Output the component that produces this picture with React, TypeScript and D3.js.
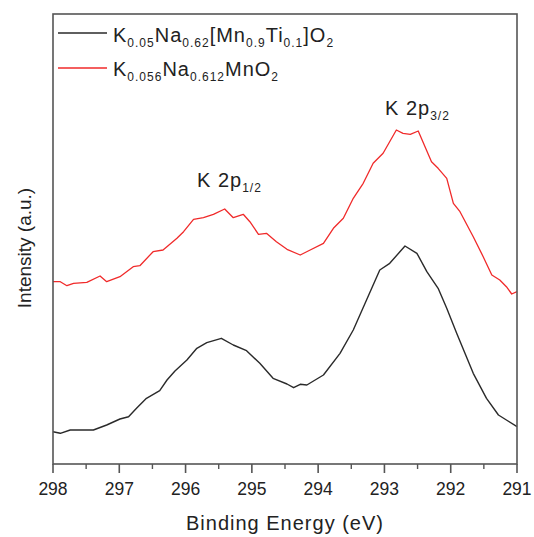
import React from "react";
import * as d3 from "d3";

// Binding energy (eV) and intensity (a.u.) for the two K 2p spectra
const energyTi = [
  298.0, 297.89, 297.74, 297.39, 297.19, 296.99, 296.86, 296.74, 296.59, 296.39,
  296.28, 296.16, 295.98, 295.83, 295.68, 295.46, 295.28, 295.08, 294.88, 294.68,
  294.47, 294.37, 294.27, 294.17, 293.92, 293.67, 293.47, 293.27, 293.07, 292.92,
  292.69, 292.51, 292.36, 292.19, 292.06, 291.91, 291.66, 291.46, 291.28, 291.16,
  291.0,
];
const intensityTi = [
  32.3, 30.7, 34, 34, 39, 45, 47.3, 55.7, 65.7, 73.3,
  84, 93, 104, 115.7, 121.3, 125.7, 119, 113.3, 100.7, 85.7,
  80, 76.3, 79.7, 79, 89, 110.7, 134, 164, 194, 200.7,
  218, 210.7, 192.3, 175.7, 155.7, 130.7, 90.7, 65.7, 49, 44,
  37.3,
];

const energyMn = [
  298.0, 297.89, 297.79, 297.69, 297.49, 297.29, 297.19, 296.99, 296.79, 296.69,
  296.49, 296.34, 296.13, 296.03, 295.88, 295.73, 295.58, 295.41, 295.28, 295.13,
  295.03, 294.9, 294.78, 294.63, 294.47, 294.27, 294.12, 293.92, 293.77, 293.62,
  293.47, 293.32, 293.17, 293.02, 292.82, 292.72, 292.61, 292.49, 292.29, 292.19,
  292.06, 291.96, 291.86, 291.66, 291.51, 291.38, 291.26, 291.16, 291.08, 291.0,
];
const intensityMn = [
  182.3, 182.3, 178.3, 180.7, 181.7, 188, 182.3, 187.3, 197.3, 198.3,
  212.3, 214, 225.7, 232.3, 244.7, 246.3, 249.7, 255, 246.3, 249.7,
  242.3, 229.7, 230.7, 222.3, 214.7, 209, 214, 220.7, 235.7, 245.7,
  265.7, 280.7, 300.7, 310.7, 334, 330.7, 329.7, 333, 302.3, 295.7,
  285.7, 260.7, 252.3, 227.3, 207.3, 189, 184, 177.3, 170, 172.3,
];

const xTicks = [298, 297, 296, 295, 294, 293, 292, 291];
const xMinorTicks = [297.5, 296.5, 295.5, 294.5, 293.5, 292.5, 291.5];

const W = 534;
const H = 537;
const margin = { left: 53, right: 17, top: 14, bottom: 73 };
const FONT = "'Liberation Sans', Arial, sans-serif";

type Part = { t: string; sub?: boolean };

const legendTi: Part[] = [
  { t: "K" }, { t: "0.05", sub: true }, { t: "Na" }, { t: "0.62", sub: true },
  { t: "[Mn" }, { t: "0.9", sub: true }, { t: "Ti" }, { t: "0.1", sub: true },
  { t: "]O" }, { t: "2", sub: true },
];
const legendMn: Part[] = [
  { t: "K" }, { t: "0.056", sub: true }, { t: "Na" }, { t: "0.612", sub: true },
  { t: "MnO" }, { t: "2", sub: true },
];

function Rich({ x, y, parts, size = 20, subSize = 12, spacing = 1 }: {
  x: number; y: number; parts: Part[]; size?: number; subSize?: number; spacing?: number;
}) {
  let prevSub = false;
  return (
    <text x={x} y={y} fontFamily={FONT} fontSize={size} fill="#222" letterSpacing={spacing}>
      {parts.map((p, i) => {
        const dy = p.sub && !prevSub ? 5 : !p.sub && prevSub ? -5 : 0;
        prevSub = !!p.sub;
        return (
          <tspan key={i} dy={dy} fontSize={p.sub ? subSize : size}>
            {p.t}
          </tspan>
        );
      })}
    </text>
  );
}

export default function App() {
  const x = d3.scaleLinear().domain([298, 291]).range([margin.left, W - margin.right]);
  const y = d3.scaleLinear().domain([0, 450]).range([H - margin.bottom, margin.top]);

  const line = d3
    .line<[number, number]>()
    .x((d) => x(d[0]))
    .y((d) => y(d[1]));

  const tiPath = line(energyTi.map((e, i) => [e, intensityTi[i]]) as [number, number][]) || "";
  const mnPath = line(energyMn.map((e, i) => [e, intensityMn[i]]) as [number, number][]) || "";

  const x0 = margin.left;
  const x1 = W - margin.right;
  const y0 = H - margin.bottom;
  const y1 = margin.top;

  return (
    <div style={{ position: "fixed", left: 0, top: 0 }}>
      <svg width={W} height={H} style={{ display: "block", background: "#fff" }}>
        {/* spectra */}
        <path d={mnPath} fill="none" stroke="#f02a2a" strokeWidth={1.3} strokeLinejoin="round" />
        <path d={tiPath} fill="none" stroke="#2a2a2a" strokeWidth={1.4} strokeLinejoin="round" />

        {/* frame */}
        <rect x={x0} y={y1} width={x1 - x0} height={y0 - y1} fill="none" stroke="#555" strokeWidth={1.6} />

        {/* bottom axis ticks */}
        {xTicks.map((t) => (
          <g key={t}>
            <line x1={x(t)} x2={x(t)} y1={y0} y2={y0 + 9} stroke="#555" strokeWidth={1.6} />
            <text x={x(t)} y={y0 + 31} textAnchor="middle" fontFamily={FONT} fontSize={17.5} fill="#222">
              {t}
            </text>
          </g>
        ))}
        {xMinorTicks.map((t) => (
          <line key={t} x1={x(t)} x2={x(t)} y1={y0} y2={y0 + 5} stroke="#555" strokeWidth={1.4} />
        ))}

        {/* axis titles */}
        <text x={(x0 + x1) / 2} y={530} textAnchor="middle" fontFamily={FONT} fontSize={20} fill="#222" letterSpacing={1}>
          Binding Energy (eV)
        </text>
        <text
          transform={`translate(31, ${(y0 + y1) / 2 + 9}) rotate(-90)`}
          textAnchor="middle"
          fontFamily={FONT}
          fontSize={19}
          fill="#222"
        >
          Intensity (a.u.)
        </text>

        {/* legend */}
        <line x1={58} x2={107} y1={33} y2={33} stroke="#2a2a2a" strokeWidth={1.4} />
        <Rich x={113} y={42} parts={legendTi} />
        <line x1={58} x2={107} y1={68} y2={68} stroke="#f02a2a" strokeWidth={1.3} />
        <Rich x={113} y={76} parts={legendMn} />

        {/* peak labels */}
        <Rich x={197} y={187} parts={[{ t: "K 2p" }, { t: "1/2", sub: true }]} subSize={12} />
        <Rich x={385} y={115} parts={[{ t: "K 2p" }, { t: "3/2", sub: true }]} subSize={12} />
      </svg>
    </div>
  );
}
